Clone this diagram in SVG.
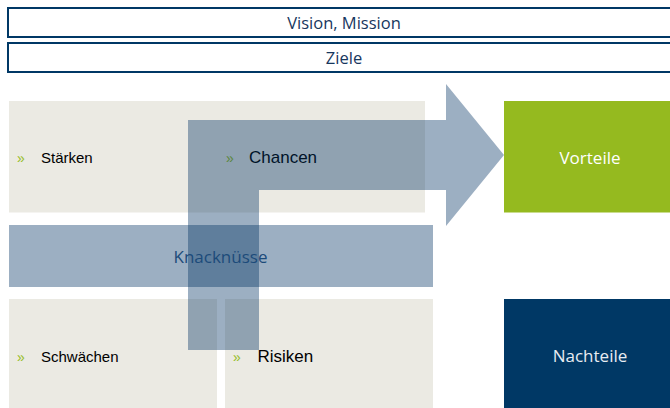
<svg xmlns="http://www.w3.org/2000/svg" width="670" height="408" viewBox="0 0 670 408">
  <style>
    .frame { fill: #ffffff; stroke: #003865; stroke-width: 2; }
    .head { font-family: "Open Sans", "Noto Sans", sans-serif; font-size: 16.5px; fill: #17375e; text-anchor: middle; }
    .field { fill: #ebeae3; }
    .bullet { font-family: "Liberation Sans", Arial, sans-serif; font-size: 14px; fill: #95bd1f; }
    .item { font-family: "Liberation Sans", Arial, sans-serif; fill: #000000; }
    .veil { fill: #003163; fill-opacity: 0.39; }
    .label { font-family: "Open Sans", "Noto Sans", sans-serif; font-size: 17px; text-anchor: middle; }
  </style>

  <!-- header bars -->
  <g id="vision">
    <rect class="frame" x="8" y="8" width="680" height="29"/>
    <text class="head" x="344" y="28.5">Vision, Mission</text>
  </g>
  <g id="ziele">
    <rect class="frame" x="8" y="43" width="680" height="29"/>
    <text class="head" x="344" y="63.5">Ziele</text>
  </g>

  <!-- SWOT fields -->
  <g id="staerken">
    <rect class="field" x="9" y="101" width="416" height="111.5"/>
    <text class="bullet" x="17" y="163">»</text>
    <text class="item" x="41" y="163.3" font-size="15">Stärken</text>
  </g>
  <g id="chancen">
    <text class="bullet" x="226" y="163">»</text>
    <text class="item" x="249" y="163.3" font-size="17">Chancen</text>
  </g>
  <g id="schwaechen">
    <rect class="field" x="9" y="299" width="208" height="109"/>
    <text class="bullet" x="17" y="361.5">»</text>
    <text class="item" x="41" y="361.7" font-size="15">Schwächen</text>
  </g>
  <g id="risiken">
    <rect class="field" x="225" y="299" width="208" height="109"/>
    <text class="bullet" x="233" y="361.5">»</text>
    <text class="item" x="257.5" y="361.7" font-size="17">Risiken</text>
  </g>

  <!-- outcome boxes -->
  <g id="vorteile">
    <rect x="504" y="101" width="166" height="111.5" fill="#95ba1f"/>
    <text class="label" x="590" y="164" fill="#ffffff">Vorteile</text>
  </g>
  <g id="nachteile">
    <rect x="504" y="299" width="166" height="109" fill="#003865"/>
    <text class="label" x="590" y="361.7" fill="#e8ecf2">Nachteile</text>
  </g>

  <!-- translucent band across the middle -->
  <g id="knacknuesse">
    <rect class="veil" x="9" y="225" width="424" height="62"/>
  </g>

  <!-- bent arrow leading up and over to the advantages -->
  <g id="connectors">
    <path class="veil" d="M188,350 L188,120 L446,120 L446,84 L504,155 L446,226 L446,190 L259,190 L259,350 Z"/>
  </g>

  <g id="knacknuesse-label">
    <text class="label" x="220.5" y="262.7" fill="#1c4b7a">Knacknüsse</text>
  </g>
</svg>
